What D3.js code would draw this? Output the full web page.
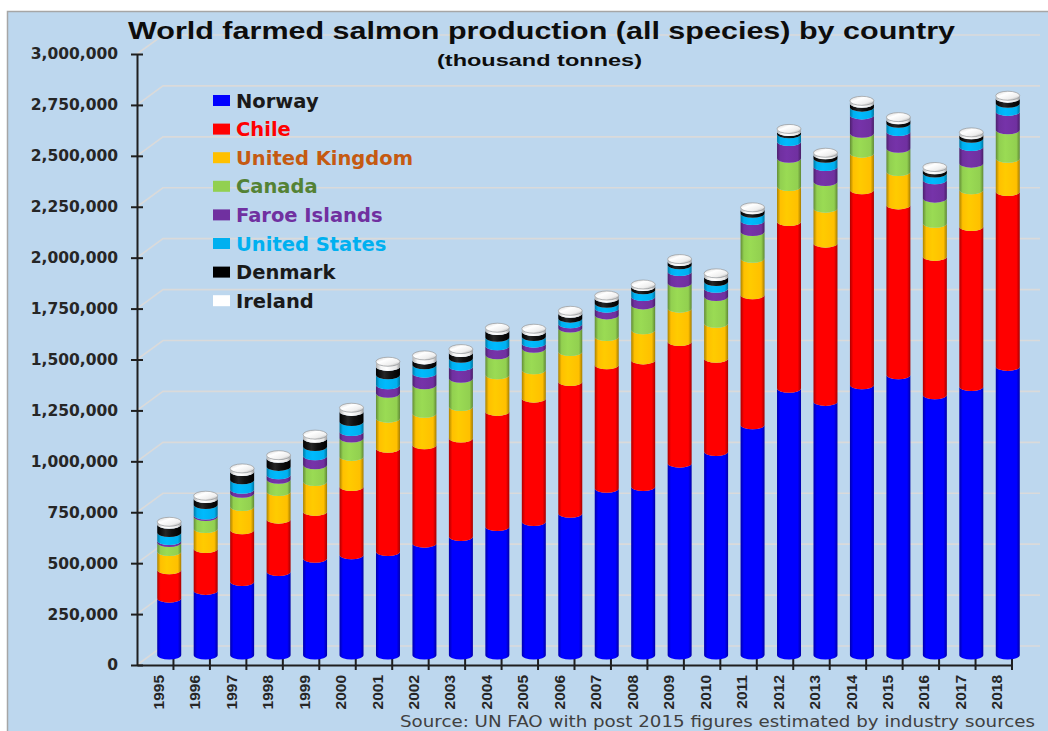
<!DOCTYPE html>
<html>
<head>
<meta charset="utf-8">
<script src="https://cdn.jsdelivr.net/npm/d3@7"></script>
<style>
  body { margin: 0; background: #ffffff; }
  svg { display: block; }
</style>
</head>
<body>
<svg id="chart" width="1048" height="731"></svg>
<script>
// Farmed salmon production by country, thousand tonnes
const years = [1995, 1996, 1997, 1998, 1999, 2000, 2001, 2002, 2003, 2004, 2005, 2006,
               2007, 2008, 2009, 2010, 2011, 2012, 2013, 2014, 2015, 2016, 2017, 2018];
const norway  = [279, 317, 361, 410, 475, 492, 508, 549, 582, 631, 655, 696, 819, 827, 942, 999, 1130, 1310, 1245, 1327, 1376, 1278, 1318, 1417];
const chile   = [139, 206, 254, 257, 230, 335, 507, 483, 483, 565, 606, 647, 606, 622, 597, 458, 639, 818, 777, 957, 834, 679, 786, 859];
const uk      = [90, 98, 114, 136, 147, 148, 148, 155, 155, 180, 139, 147, 139, 148, 164, 172, 179, 172, 172, 180, 164, 163, 180, 163];
const canada  = [44, 59, 65, 60, 82, 90, 122, 140, 139, 98, 106, 115, 106, 122, 123, 131, 131, 139, 131, 98, 114, 123, 131, 140];
const faroe   = [10, 7, 20, 22, 44, 32, 42, 57, 58, 44, 25, 21, 33, 41, 57, 41, 54, 82, 73, 90, 82, 90, 82, 90];
const usa     = [39, 52, 46, 41, 46, 49, 49, 41, 40, 42, 33, 28, 24, 33, 33, 33, 36, 38, 41, 38, 41, 33, 40, 40];
const denmark = [41, 29, 41, 40, 40, 50, 41, 24, 28, 33, 24, 24, 25, 16, 16, 24, 17, 11, 17, 19, 17, 16, 17, 25];
const ireland = [12, 14, 15, 15, 18, 18, 23, 22, 17, 14, 14, 12, 13, 10, 12, 16, 12, 13, 10, 12, 13, 14, 12, 12];

const seriesNames  = ["Norway", "Chile", "United Kingdom", "Canada", "Faroe Islands", "United States", "Denmark", "Ireland"];
const seriesData   = [norway, chile, uk, canada, faroe, usa, denmark, ireland];
const seriesColors = ["#0000ff", "#ff0000", "#ffc000", "#92d050", "#7030a0", "#00b0f0", "#000000", "#ffffff"];
const legendTextColors = ["#1a1a1a", "#ff0000", "#c55a11", "#548235", "#7030a0", "#00b0f0", "#1a1a1a", "#1a1a1a"];

const yTicks = [0, 250000, 500000, 750000, 1000000, 1250000, 1500000, 1750000,
                2000000, 2250000, 2500000, 2750000, 3000000];

const titleText = "World farmed salmon production (all species) by country";
const subtitleText = "(thousand tonnes)";
const sourceText = "Source: UN FAO with post 2015 figures estimated by industry sources";

// ---- layout ----
const svg = d3.select("#chart");
const AXIS_X = 137, AXIS_Y = 665, TOP_Y = 54, X_END = 1012;
const WALL_DX = 26, WALL_DY = -19;     // oblique depth of the back wall
const BAR_DX = 14, BAR_DY = -10;       // columns sit mid-depth
const R = 12, RY = 4.5;                // cylinder radius and ellipse half-height

const x = d3.scaleBand().domain(years).range([AXIS_X, X_END]).paddingInner(0).paddingOuter(0);
const y = d3.scaleLinear().domain([0, 3000000]).range([AXIS_Y, TOP_Y]);

// rows in tonnes for stacking
const table = years.map((yr, i) => {
  const row = { year: yr };
  seriesNames.forEach((n, k) => { row[n] = seriesData[k][i] * 1000; });
  return row;
});
const stacked = d3.stack().keys(seriesNames)(table);

// ---- background ----
svg.append("rect").attr("x", 0).attr("y", 0).attr("width", 1048).attr("height", 731).attr("fill", "#ffffff");
svg.append("rect").attr("x", 7.5).attr("y", 11.5).attr("width", 1045).attr("height", 725)
  .attr("fill", "#bdd7ee").attr("stroke", "#a6a6a6").attr("stroke-width", 1.5);

// ---- gradients ----
const defs = svg.append("defs");
function shade(c, k) { return d3.rgb(c).darker(k).formatHex(); }
seriesColors.forEach((c, i) => {
  const g = defs.append("linearGradient").attr("id", "cyl" + i)
    .attr("x1", 0).attr("x2", 1).attr("y1", 0).attr("y2", 0);
  let stops;
  if (c === "#ffffff") {
    stops = [[0, "#b0b0b0"], [0.2, "#f4f4f4"], [0.45, "#ffffff"], [0.85, "#e6e6e6"], [1, "#9a9a9a"]];
  } else if (c === "#000000") {
    stops = [[0, "#000000"], [0.35, "#262626"], [0.6, "#111111"], [1, "#000000"]];
  } else {
    stops = [[0, shade(c, 1.1)], [0.14, c], [0.4, d3.rgb(c).brighter(0.15).formatHex()], [0.86, c], [1, shade(c, 1.2)]];
  }
  stops.forEach(s => g.append("stop").attr("offset", s[0]).attr("stop-color", s[1]));
});
const capGrad = defs.append("linearGradient").attr("id", "capGrad")
  .attr("x1", 0).attr("x2", 1).attr("y1", 0).attr("y2", 1);
[[0, "#d0d0d0"], [0.35, "#ffffff"], [0.7, "#eeeeee"], [1, "#9c9c9c"]]
  .forEach(s => capGrad.append("stop").attr("offset", s[0]).attr("stop-color", s[1]));

// ---- back wall gridlines with depth diagonals ----
const grid = svg.append("g").attr("stroke", "#dadada").attr("stroke-width", 1.6).attr("fill", "none");
yTicks.forEach(t => {
  const yy = y(t);
  grid.append("path")
    .attr("d", `M${AXIS_X},${yy} L${AXIS_X + WALL_DX},${yy + WALL_DY} L1040,${yy + WALL_DY}`);
});

// ---- axes ----
const yAxis = d3.axisLeft(y).tickValues(yTicks).tickFormat(d3.format(",")).tickSizeInner(6).tickSizeOuter(0).tickPadding(13);
const gy = svg.append("g").attr("transform", `translate(${AXIS_X},0)`).call(yAxis);
gy.select(".domain").attr("stroke", "#1f1f1f").attr("stroke-width", 2);
gy.selectAll(".tick line").attr("x1", -6).attr("x2", 6).attr("stroke", "#1f1f1f").attr("stroke-width", 2);
gy.selectAll(".tick text").attr("font-family", "DejaVu Sans, sans-serif").attr("font-weight", "bold")
  .attr("font-size", 15.5).attr("fill", "#262626");

const xAxis = d3.axisBottom(x).tickSizeInner(0).tickSizeOuter(0).tickPadding(0);
const gx = svg.append("g").attr("transform", `translate(0,${AXIS_Y})`).call(xAxis);
gx.select(".domain").attr("stroke", "#1f1f1f").attr("stroke-width", 2);
gx.selectAll(".tick line").remove();
gx.selectAll(".tick text")
  .attr("transform", "translate(3,10) rotate(-90)")
  .attr("text-anchor", "end").attr("dy", "0.36em").attr("y", 0)
  .attr("font-family", "Liberation Sans, Arial, sans-serif").attr("font-weight", "bold")
  .attr("font-size", 15.5).attr("fill", "#262626");
// category boundary ticks
const bounds = years.map(d => x(d)).concat([x(years[years.length - 1]) + x.bandwidth()]);
gx.selectAll(".bound").data(bounds.slice(1)).enter().append("line").attr("class", "bound")
  .attr("x1", d => d).attr("x2", d => d).attr("y1", -6).attr("y2", 5)
  .attr("stroke", "#1f1f1f").attr("stroke-width", 2);

// ---- cylinders ----
function sidePath(cx, yTop, yBot) {
  return `M${cx - R},${yTop} L${cx - R},${yBot} A${R},${RY} 0 0 0 ${cx + R},${yBot} ` +
         `L${cx + R},${yTop} A${R},${RY} 0 0 1 ${cx - R},${yTop} Z`;
}
const bars = svg.append("g");
stacked.forEach((layer, si) => {
  bars.append("g").selectAll("path").data(layer).enter().append("path")
    .attr("d", d => {
      const cx = x(d.data.year) + x.bandwidth() / 2 + BAR_DX;
      return sidePath(cx, y(d[1]) + BAR_DY, y(d[0]) + BAR_DY);
    })
    .attr("fill", `url(#cyl${si})`);
});
const topLayer = stacked[stacked.length - 1];
bars.append("g").selectAll("ellipse").data(topLayer).enter().append("ellipse")
  .attr("cx", d => x(d.data.year) + x.bandwidth() / 2 + BAR_DX)
  .attr("cy", d => y(d[1]) + BAR_DY)
  .attr("rx", R).attr("ry", RY)
  .attr("fill", "url(#capGrad)").attr("stroke", "#8c8c8c").attr("stroke-width", 0.6);

// ---- legend ----
const legend = svg.append("g");
seriesNames.forEach((n, i) => {
  const cy = 100.5 + i * 28.6;
  legend.append("rect").attr("x", 213).attr("y", cy - 5.5).attr("width", 17).attr("height", 11)
    .attr("fill", seriesColors[i]);
  legend.append("text").attr("x", 236).attr("y", cy).attr("dy", "0.36em")
    .attr("font-family", "DejaVu Sans, sans-serif").attr("font-weight", "bold").attr("font-size", 19.5)
    .attr("fill", legendTextColors[i]).text(n);
});

// ---- titles ----
svg.append("text").attr("x", 128).attr("y", 39)
  .attr("textLength", 827).attr("lengthAdjust", "spacingAndGlyphs")
  .attr("font-family", "Liberation Sans, Arial, sans-serif").attr("font-weight", "bold").attr("font-size", 24)
  .attr("fill", "#0d0d0d").text(titleText);
svg.append("text").attr("x", 437).attr("y", 66)
  .attr("textLength", 205).attr("lengthAdjust", "spacingAndGlyphs")
  .attr("font-family", "Liberation Sans, Arial, sans-serif").attr("font-weight", "bold").attr("font-size", 17)
  .attr("fill", "#0d0d0d").text(subtitleText);
svg.append("text").attr("x", 400).attr("y", 727)
  .attr("textLength", 635).attr("lengthAdjust", "spacingAndGlyphs")
  .attr("font-family", "DejaVu Sans, sans-serif").attr("font-size", 15)
  .attr("fill", "#404040").text(sourceText);
</script>
</body>
</html>
